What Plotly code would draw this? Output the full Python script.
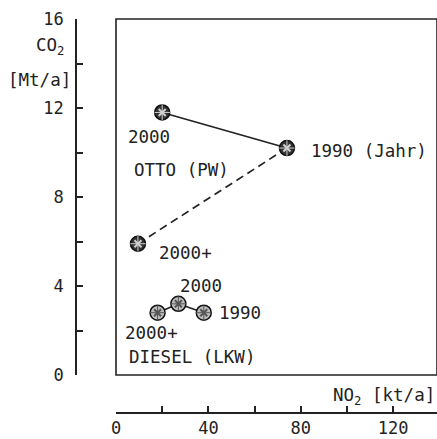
import plotly.graph_objects as go

# ---- data ----
otto_years = ["2000", "1990", "2000+"]
otto_no2 = [20, 74, 9.5]
otto_co2 = [11.8, 10.2, 5.9]

diesel_years = ["2000+", "2000", "1990"]
diesel_no2 = [18, 27, 38]
diesel_co2 = [2.8, 3.2, 2.8]

x_dtick, x_minor = 40, 20
y_dtick, y_minor = 4, 2

W, H = 437, 439
FONT = "DejaVu Sans Mono"
INK = "#222222"
FS = 17.5

fig = go.Figure()

def seg(xs, ys, dash):
    fig.add_trace(go.Scatter(x=xs, y=ys, mode="lines",
                             line=dict(color=INK, width=1.7, dash=dash),
                             hoverinfo="skip", showlegend=False))

# Otto lines: 2000 -> 1990 solid, 1990 -> 2000+ dashed
seg(otto_no2[0:2], otto_co2[0:2], "solid")
seg(otto_no2[1:3], otto_co2[1:3], "8px,5px")
# Diesel lines
seg(diesel_no2[0:2], diesel_co2[0:2], "solid")
seg(diesel_no2[1:3], diesel_co2[1:3], "solid")

def markers(xs, ys, fill, edge, hatch):
    fig.add_trace(go.Scatter(x=xs, y=ys, mode="markers",
                             marker=dict(symbol="circle", size=15, color=fill,
                                         line=dict(color=edge, width=1.5)),
                             hoverinfo="skip", showlegend=False))
    fig.add_trace(go.Scatter(x=xs, y=ys, mode="markers",
                             marker=dict(symbol="x-thin", size=7,
                                         line=dict(color=hatch, width=2)),
                             hoverinfo="skip", showlegend=False))
    fig.add_trace(go.Scatter(x=xs, y=ys, mode="markers",
                             marker=dict(symbol="cross-thin", size=11,
                                         line=dict(color=hatch, width=1)),
                             hoverinfo="skip", showlegend=False))

markers(otto_no2, otto_co2, "#333333", "#111111", "#d0d0d0")
markers(diesel_no2, diesel_co2, "#bdbdbd", "#111111", "#555555")

ann = []
def lab(text, x, y, xs, ys, xanchor="left"):
    ann.append(dict(text=text, x=x, y=y, xref="x", yref="y", showarrow=False,
                    xshift=xs, yshift=ys, xanchor=xanchor, yanchor="middle",
                    font=dict(family=FONT, size=FS, color=INK)))

lab(otto_years[0], otto_no2[0], otto_co2[0], -13, -25, "center")
lab(otto_years[1] + " (Jahr)", otto_no2[1], otto_co2[1], 22, -3)
lab(otto_years[2], otto_no2[2], otto_co2[2], 19, -9)
lab("OTTO (PW)", 7, 9.2, 0, 0)

lab(diesel_years[0], diesel_no2[0], diesel_co2[0], -35, -20)
lab(diesel_years[1], diesel_no2[1], diesel_co2[1], 23, 18, "center")
lab(diesel_years[2], diesel_no2[2], diesel_co2[2], 13, 0)
lab("DIESEL (LKW)", 4.8, 0.8, 0, 0)

# axis titles
ann.append(dict(text="CO<sub>2</sub>", x=50 / W, y=1 - 46 / H, xref="paper", yref="paper",
                showarrow=False, xanchor="center", yanchor="middle",
                font=dict(family=FONT, size=FS, color=INK)))
ann.append(dict(text="[Mt/a]", x=39 / W, y=1 - 80 / H, xref="paper", yref="paper",
                showarrow=False, xanchor="center", yanchor="middle",
                font=dict(family=FONT, size=FS, color=INK)))
ann.append(dict(text="NO<sub>2</sub> [kt/a]", x=331 / W, y=1 - 396 / H, xref="paper", yref="paper",
                showarrow=False, xanchor="left", yanchor="middle",
                font=dict(family=FONT, size=17.5, color=INK)))

x_left, x_right = 116, W
y_top, y_bot = 19, 375
x_axis_y = 413
y_axis_x = 76

fig.update_layout(
    width=W, height=H,
    margin=dict(l=0, r=0, t=0, b=0, autoexpand=False),
    paper_bgcolor="white", plot_bgcolor="white",
    font=dict(family=FONT, size=FS, color=INK),
    annotations=ann,
    shapes=[dict(type="rect", xref="x domain", yref="y domain", x0=0, x1=1, y0=0, y1=1,
                 line=dict(color=INK, width=1.6), layer="above")],
    xaxis=dict(domain=[x_left / W, x_right / W], range=[0, (x_right - x_left) / 2.31],
               anchor="free", position=(H - x_axis_y) / H,
               showgrid=False, zeroline=False, showline=True, linecolor=INK, linewidth=1.6,
               ticks="inside", ticklen=6, tickwidth=1.6, tickcolor=INK,
               tick0=0, dtick=x_dtick,
               minor=dict(dtick=x_minor, ticks="inside", ticklen=6, tickwidth=1.6,
                          tickcolor=INK, showgrid=False),
               tickfont=dict(family=FONT, size=17, color=INK)),
    yaxis=dict(domain=[(H - y_bot) / H, (H - y_top) / H], range=[0, 16],
               anchor="free", position=y_axis_x / W,
               showgrid=False, zeroline=False, showline=True, linecolor=INK, linewidth=1.6,
               ticks="inside", ticklen=6, tickwidth=1.6, tickcolor=INK,
               tick0=0, dtick=y_dtick, ticklabelstandoff=8,
               minor=dict(dtick=y_minor, ticks="inside", ticklen=6, tickwidth=1.6,
                          tickcolor=INK, showgrid=False),
               tickfont=dict(family=FONT, size=17, color=INK)),
)

fig.write_html("out.html", config={"displayModeBar": False},
               post_script="document.body.style.margin='0';")
